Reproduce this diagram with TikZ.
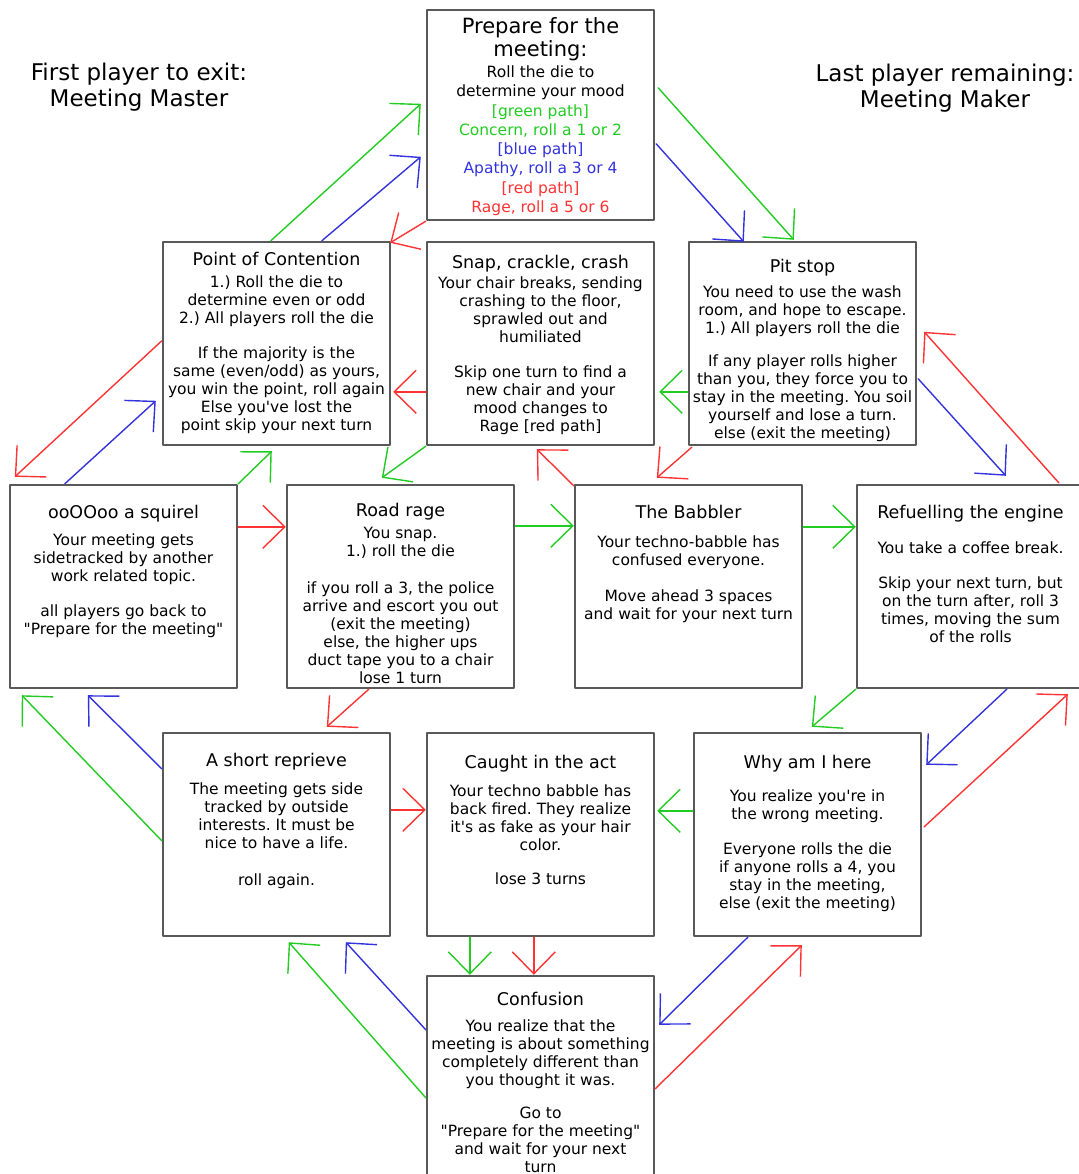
\documentclass[tikz,border=0pt]{standalone}
\usepackage{fontspec}
\setmainfont{DejaVu Sans}[Ligatures=TeXOff]
\usetikzlibrary{arrows.meta,calc,positioning}
\frenchspacing
\definecolor{pathgreen}{RGB}{34,204,34}
\definecolor{pathblue}{RGB}{51,51,221}
\definecolor{pathred}{RGB}{255,51,51}
\newcommand{\cardhead}[1]{{\fontsize{17.5}{18}\selectfont #1}}
\newcommand{\bighead}[1]{{\fontsize{21}{21}\selectfont #1}}

\begin{document}
\begin{tikzpicture}[x=1pt,y=-1pt,line cap=round,line join=round,
  card/.style={draw=black!65,line width=2.4pt,minimum width=227pt,minimum height=203pt,inner sep=0pt,fill=white},
  cardtext/.style={align=center,inner sep=0pt,font=\fontsize{15.5}{18}\selectfont,text=black},
  heading/.style={align=center,inner sep=0pt,font=\fontsize{23}{26}\selectfont},
  way/.style={line width=1.4pt,-{Straight Barb[length=22pt,width=43pt]}},
  greenway/.style={way,pathgreen},
  blueway/.style={way,pathblue},
  redway/.style={way,pathred}]
\useasboundingbox (0,0) rectangle (1078,1174);
\node[heading] (first) at (139,87) {First player to exit:\\Meeting Master};
\node[heading] (last) at (945,88) {Last player remaining:\\Meeting Maker};
\node[card,minimum height=210pt] (prep) at (540.5,115) {};
\node[card] (poc) at (276.5,343.5) {};
\node[card] (snap) at (540.5,343.5) {};
\node[card] (pit) at (802.5,343.5) {};
\node[card] (squ) at (123.5,586.5) {};
\node[card] (road) at (400.5,586.5) {};
\node[card] (bab) at (688.5,586.5) {};
\node[card] (ref) at (970.5,586.5) {};
\node[card] (rep) at (276.5,834.5) {};
\node[card] (cau) at (540.5,834.5) {};
\node[card] (why) at (807.5,834.5) {};
\node[card] (con) at (540.5,1077.5) {};
\node[cardtext,font=\fontsize{15.5}{19.3}\selectfont,below=9pt of prep.north] (prep-text) {\bighead{Prepare for the}\\[1.7pt]\bighead{meeting:}\\[1.2pt]Roll the die to\\determine your mood\\\textcolor{pathgreen}{[green path]}\\\textcolor{pathgreen}{Concern, roll a 1 or 2}\\\textcolor{pathblue}{[blue path]}\\\textcolor{pathblue}{Apathy, roll a 3 or 4}\\\textcolor{pathred}{[red path]}\\\textcolor{pathred}{Rage, roll a 5 or 6}};
\node[cardtext,below=11pt of poc.north] (poc-text) {\cardhead{Point of Contention}\\[4pt]1.) Roll the die to\\determine even or odd\\2.) All players roll the die\\[17pt]If the majority is the\\same (even/odd) as yours,\\you win the point, roll again\\Else you've lost the\\point skip your next turn};
\node[cardtext,below=14pt of snap.north] (snap-text) {\cardhead{Snap, crackle, crash}\\[2pt]Your chair breaks, sending\\crashing to the floor,\\sprawled out and\\humiliated\\[17pt]Skip one turn to find a\\new chair and your\\mood changes to\\Rage [red path]};
\node[cardtext,below=18pt of pit.north] (pit-text) {\cardhead{Pit stop}\\[7pt]You need to use the wash\\room, and hope to escape.\\1.) All players roll the die\\[15pt]If any player rolls higher\\than you, they force you to\\stay in the meeting. You soil\\yourself and lose a turn.\\else (exit the meeting)};
\node[cardtext,below=21pt of squ.north] (squ-text) {\cardhead{ooOOoo a squirel}\\[9pt]Your meeting gets\\sidetracked by another\\work related topic.\\[17pt]all players go back to\\"Prepare for the meeting"};
\node[cardtext,below=19pt of road.north] (road-text) {\cardhead{Road rage}\\[4pt]You snap.\\1.) roll the die\\[19pt]if you roll a 3, the police\\arrive and escort you out\\(exit the meeting)\\else, the higher ups\\duct tape you to a chair\\lose 1 turn};
\node[cardtext,below=21pt of bab.north] (bab-text) {\cardhead{The Babbler}\\[11pt]Your techno-babble has\\confused everyone.\\[18pt]Move ahead 3 spaces\\and wait for your next turn};
\node[cardtext,below=21pt of ref.north] (ref-text) {\cardhead{Refuelling the engine}\\[17pt]You take a coffee break.\\[17pt]Skip your next turn, but\\on the turn after, roll 3\\times, moving the sum\\of the rolls};
\node[cardtext,below=21pt of rep.north] (rep-text) {\cardhead{A short reprieve}\\[10pt]The meeting gets side\\tracked by outside\\interests. It must be\\nice to have a life.\\[19pt]roll again.};
\node[cardtext,below=23pt of cau.north] (cau-text) {\cardhead{Caught in the act}\\[10pt]Your techno babble has\\back fired. They realize\\it's as fake as your hair\\color.\\[16pt]lose 3 turns};
\node[cardtext,below=23pt of why.north] (why-text) {\cardhead{Why am I here}\\[15pt]You realize you're in\\the wrong meeting.\\[17pt]Everyone rolls the die\\if anyone rolls a 4, you\\stay in the meeting,\\else (exit the meeting)};
\node[cardtext,below=17pt of con.north] (con-text) {\cardhead{Confusion}\\[8pt]You realize that the\\meeting is about something\\completely different than\\you thought it was.\\[15pt]Go to\\"Prepare for the meeting"\\and wait for your next\\turn};
\draw[greenway] ($(poc.north west)+(109,0)$) -- ($(prep.north west)+(-5,95)$);
\draw[blueway] ($(poc.north west)+(160,0)$) -- ($(prep.north west)+(-5,148)$);
\draw[redway] (prep.south west) -- ($(poc.north east)+(-1,2)$);
\draw[blueway] ($(prep.north east)+(1,135)$) -- ($(pit.north west)+(56,1)$);
\draw[greenway] ($(prep.north east)+(3,79)$) -- ($(pit.north west)+(106,-1)$);
\draw[redway] ($(ref.north west)+(203,-1)$) -- ($(pit.north east)+(7,91)$);
\draw[blueway] ($(pit.north east)+(1,138)$) -- ($(ref.north west)+(150,-8)$);
\draw[greenway] ($(pit.north west)+(0,151)$) -- ($(snap.north east)+(4,151)$);
\draw[redway] ($(pit.south west)+(4,1)$) -- ($(bab.north west)+(83,-6)$);
\draw[redway] ($(snap.north west)+(0,151)$) -- ($(poc.north east)+(2,151)$);
\draw[greenway] (snap.south west) -- ($(road.north west)+(96,-6)$);
\draw[redway] ($(bab.north west)+(0,2)$) -- ($(snap.south west)+(111,3)$);
\draw[redway] ($(poc.north west)+(0,100)$) -- ($(squ.north west)+(6,-7)$);
\draw[blueway] ($(squ.north west)+(56,0)$) -- ($(poc.north west)+(-6,160)$);
\draw[greenway] (squ.north east) -- ($(poc.south west)+(110,5)$);
\draw[redway] ($(squ.north east)+(0,43)$) -- ($(road.north west)+(0,43)$);
\draw[greenway] ($(road.north east)+(0,42)$) -- ($(bab.north west)+(0,42)$);
\draw[greenway] ($(bab.north east)+(0,43)$) -- ($(ref.north west)+(0,43)$);
\draw[redway] ($(road.south west)+(83,0)$) -- ($(rep.north west)+(165,-5)$);
\draw[greenway] ($(rep.north west)+(0,109)$) -- ($(squ.south west)+(13,6)$);
\draw[blueway] ($(rep.north west)+(0,37)$) -- ($(squ.south west)+(79,6)$);
\draw[redway] ($(rep.north east)+(0,78)$) -- ($(cau.north west)+(0,78)$);
\draw[greenway] ($(why.north west)+(0,79)$) -- ($(cau.north east)+(2,79)$);
\draw[greenway] (ref.south west) -- ($(why.north west)+(119,-5)$);
\draw[blueway] ($(ref.south west)+(151,0)$) -- ($(why.north east)+(4,33)$);
\draw[redway] ($(why.north east)+(2,95)$) -- ($(ref.south west)+(212,5)$);
\draw[greenway] ($(cau.south west)+(44,0)$) -- ($(con.north west)+(44,0)$);
\draw[redway] ($(cau.south west)+(108,0)$) -- ($(con.north west)+(108,0)$);
\draw[greenway] ($(con.north west)+(0,123)$) -- ($(rep.south west)+(127,5)$);
\draw[blueway] ($(con.north west)+(0,55)$) -- ($(rep.south west)+(184,5)$);
\draw[blueway] ($(why.south west)+(55,0)$) -- ($(con.north east)+(4,50)$);
\draw[redway] ($(con.north east)+(0,114)$) -- ($(why.south west)+(109,8)$);
\end{tikzpicture}
\end{document}
